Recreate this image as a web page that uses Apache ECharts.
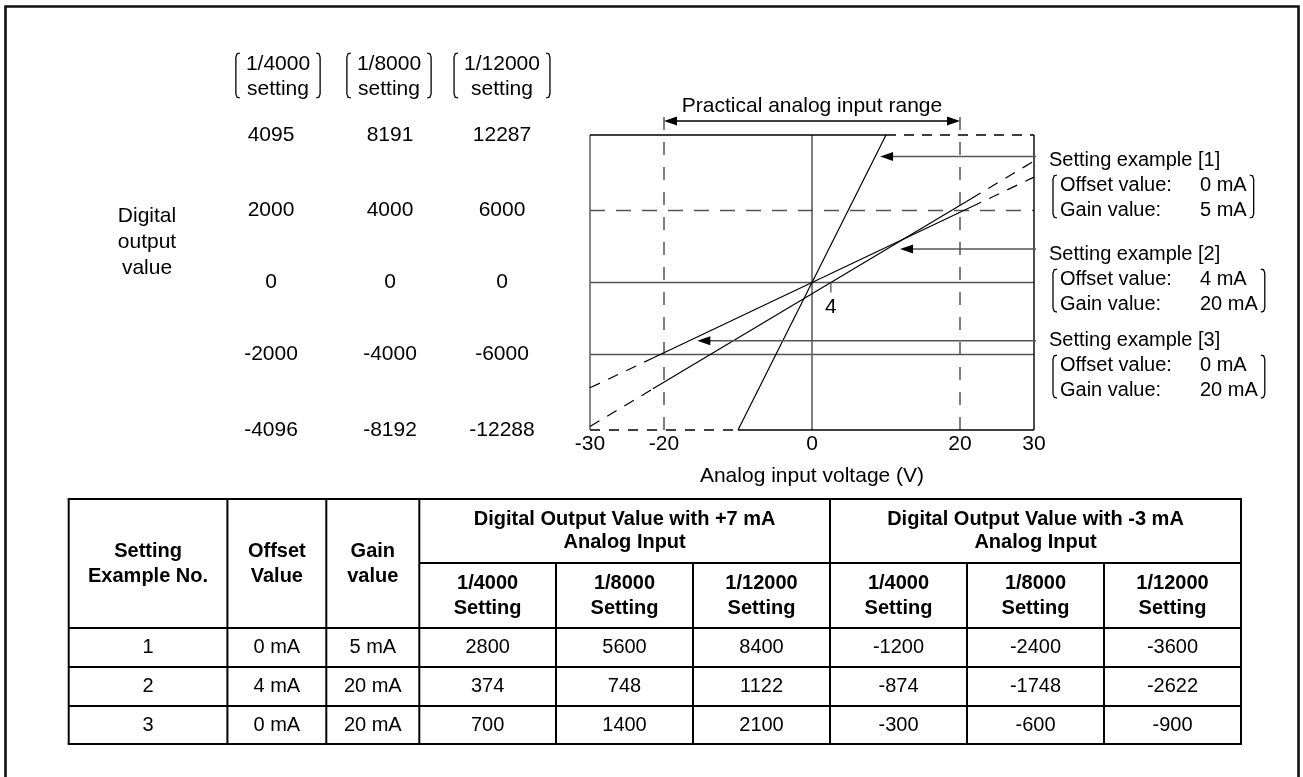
<!DOCTYPE html>
<html><head><meta charset="utf-8">
<script src="https://cdn.jsdelivr.net/npm/echarts@6/dist/echarts.min.js"></script>
<style>html,body{margin:0;padding:0;background:#fff}#c{width:1303px;height:777px}</style>
</head><body><div id="c"></div>
<script>
// ================= DATA =================
const xTicks = [-30, -20, 0, 20, 30];
const yTicks4000 = [-4096, -2000, 0, 2000, 4095];
const yTicks8000 = [-8192, -4000, 0, 4000, 8191];
const yTicks12000 = [-12288, -6000, 0, 6000, 12287];
const resolutionHeaders = ['1/4000', '1/8000', '1/12000'];
const practicalRange = [-20, 20];

// characteristic lines (x: V, y: digital value at 1/4000)
const example1Line = [[-10, -4096], [10, 4095]];
const example2Solid = [[-21.5, -2953], [21.5, 2327]];
const example2DashLeft = [[-30, -3997], [-21.5, -2953]];
const example2DashRight = [[21.5, 2327], [30, 3371]];
const example3Solid = [[-21.5, -2096], [21.5, 2096]];
const example3DashLeft = [[-30, -2925], [-21.5, -2096]];
const example3DashRight = [[21.5, 2096], [30, 2925]];
const example2OffsetX = 2.55;
const example2OffsetLabel = '4';

const exampleNames = ['Setting example [1]', 'Setting example [2]', 'Setting example [3]'];
const offsetValues = ['0 mA', '4 mA', '0 mA'];
const gainValues = ['5 mA', '20 mA', '20 mA'];

const tableNo = ['1', '2', '3'];
const plus7mA = [[2800, 5600, 8400], [374, 748, 1122], [700, 1400, 2100]];
const minus3mA = [[-1200, -2400, -3600], [-874, -1748, -2622], [-300, -600, -900]];

// ================= LAYOUT =================
const FONT = '"Liberation Sans", Arial, Helvetica, sans-serif';
const G = {left: 590, top: 135, width: 444, height: 295};
const xMin = xTicks[0], xMax = xTicks[xTicks.length - 1];
const yMin = yTicks4000[0], yMax = yTicks4000[yTicks4000.length - 1];
const pxPerX = G.width / (xMax - xMin);
const GUIDE = '#555', INK = '#000';
const rangeArrowY = 4483, rangeGuideTop = 4790, tickBottomY = -280;
const arrowTips = [[9.2, 3500], [11.9, 930], [-15.5, -1620]];
const arrowStartX = 31.3;
const headLen = 13, headW = 9, headDX = headLen / 2 / pxPerX;

function seg(data, color, width, dash, z) {
  return {type: 'line', data: data, symbol: 'none', showSymbol: false, clip: false, silent: true,
    animation: false, z: z || 2, lineStyle: {color: color, width: width, type: dash || 'solid'}};
}

const series = [
  seg([[0, yMin], [0, yMax]], GUIDE, 1.5),
  seg([[xMin, yTicks4000[2]], [xMax, yTicks4000[2]]], GUIDE, 1.5),
  seg([[xMin, yTicks4000[1]], [xMax, yTicks4000[1]]], GUIDE, 1.5),
  seg([[xMin, yTicks4000[3]], [xMax, yTicks4000[3]]], GUIDE, 1.5, [15, 11]),
  seg([[practicalRange[0], yMin], [practicalRange[0], rangeGuideTop]], GUIDE, 1.5, [13, 12]),
  seg([[practicalRange[1], yMin], [practicalRange[1], rangeGuideTop]], GUIDE, 1.5, [13, 12]),
  // frame
  seg([[xMin, yMin], [xMin, yMax]], '#666', 1.6, null, 3),
  seg([[xMax, yMin], [xMax, yMax]], INK, 1.4, null, 3),
  seg([[xMin, yMax], [example1Line[1][0], yMax]], INK, 1.4, null, 3),
  seg([[example1Line[1][0], yMax], [xMax, yMax]], INK, 1.4, [10, 8], 3),
  seg([[xMin, yMin], [example1Line[0][0], yMin]], INK, 1.4, [10, 9], 3),
  seg([[example1Line[0][0], yMin], [xMax, yMin]], INK, 1.4, null, 3),
  // characteristic lines
  seg(example1Line, INK, 1.2, null, 4),
  seg(example2Solid, INK, 1.2, null, 4),
  seg(example2DashLeft, INK, 1.2, [11, 9], 4),
  seg(example2DashRight, INK, 1.2, [11, 9], 4),
  seg(example3Solid, INK, 1.2, null, 4),
  seg(example3DashLeft, INK, 1.2, [11, 9], 4),
  seg(example3DashRight, INK, 1.2, [11, 9], 4),
  seg([[example2OffsetX, 0], [example2OffsetX, tickBottomY]], GUIDE, 1.3, null, 4),
  // arrows
  seg([[practicalRange[0] + headDX, rangeArrowY], [practicalRange[1] - headDX, rangeArrowY]], INK, 1.5, null, 4)
].concat(arrowTips.map(t => seg([[arrowStartX, t[1]], [t[0] + headDX, t[1]]], GUIDE, 1.5, null, 4)));

series.push({
  type: 'scatter', clip: false, silent: true, animation: false, z: 6,
  symbol: 'triangle', symbolSize: [headW, headLen], itemStyle: {color: INK, opacity: 1},
  data: [{value: [practicalRange[0] + headDX, rangeArrowY], symbolRotate: 90},
         {value: [practicalRange[1] - headDX, rangeArrowY], symbolRotate: -90}]
    .concat(arrowTips.map(t => ({value: [t[0] + headDX, t[1]], symbolRotate: 90})))
});
series.push({
  type: 'scatter', clip: false, silent: true, animation: false, z: 6,
  symbolSize: 1, itemStyle: {color: 'rgba(0,0,0,0)', opacity: 1},
  label: {show: true, color: INK, fontFamily: FONT, fontSize: 21, opacity: 1},
  data: [
    {value: [0, rangeArrowY], label: {position: 'top', distance: 4, formatter: 'Practical analog input range'}},
    {value: [example2OffsetX, tickBottomY], label: {position: 'bottom', distance: 4, formatter: example2OffsetLabel}}
  ]
});

function yAx(ticks, centerX) {
  return {type: 'value', gridIndex: 0, position: 'left', min: ticks[0], max: ticks[ticks.length - 1],
    offset: G.left - centerX, axisLine: {show: false}, axisTick: {show: false}, splitLine: {show: false},
    axisLabel: {customValues: ticks, formatter: v => String(v), align: 'center', margin: 0, fontSize: 21, color: INK,
      fontFamily: FONT, padding: [7, 0, 0, 0]}};
}
const axisCenters = [271, 390, 502];
const headerCenters = [278, 389, 502];

// ================= GRAPHIC (annotations + table) =================
const gfx = [];
const measure = (function () {
  const ctx = document.createElement('canvas').getContext('2d');
  return function (str, size, bold) { ctx.font = (bold ? 'bold ' : '') + size + 'px ' + FONT; return ctx.measureText(str).width; };
})();
function txt(x, y, str, o) {
  o = o || {};
  const size = o.size || 21;
  gfx.push({type: 'text', silent: true, z: 10, style: {
    x: x, y: y, text: str, fill: INK,
    font: (o.bold ? 'bold ' : '') + size + 'px ' + FONT,
    textAlign: o.align || 'center', align: o.align || 'center',
    textVerticalAlign: 'middle', verticalAlign: 'middle', lineHeight: o.lh || 24}});
}
function ln(x1, y1, x2, y2, w, c) {
  gfx.push({type: 'line', silent: true, z: 10, shape: {x1: x1, y1: y1, x2: x2, y2: y2},
    style: {stroke: c || INK, lineWidth: w || 2}});
}
function poly(points, w, c) {
  gfx.push({type: 'polyline', silent: true, z: 10, shape: {points: points},
    style: {stroke: c || INK, lineWidth: w || 1.3, fill: null}});
}
function bracket(x, y1, y2, dir) {
  const h = 4 * dir;
  poly([[x + h, y1], [x + h * 0.3, y1 + 0.8], [x, y1 + 4], [x, y2 - 4], [x + h * 0.3, y2 - 0.8], [x + h, y2]]);
}

// outer border
poly([[5.5, 777], [5.5, 6.5], [1298.5, 6.5], [1298.5, 777]], 2.6, '#111');

// left resolution headers
resolutionHeaders.forEach((r, i) => {
  const c = headerCenters[i];
  txt(c, 64, r);
  txt(c, 89, 'setting');
  const hw = Math.max(measure(r, 21), measure('setting', 21)) / 2 + 10;
  bracket(c - hw, 53, 98, 1);
  bracket(c + hw, 53, 98, -1);
});
txt(147, 242, 'Digital\noutput\nvalue', {lh: 26});

// right setting-example annotations
const titleYs = [160, 254, 340];
exampleNames.forEach((n, i) => {
  const ty = titleYs[i];
  txt(1049, ty, n, {align: 'left', size: 20});
  txt(1060, ty + 25, 'Offset value:', {align: 'left', size: 20});
  txt(1060, ty + 50, 'Gain value:', {align: 'left', size: 20});
  txt(1200, ty + 25, offsetValues[i], {align: 'left', size: 20});
  txt(1200, ty + 50, gainValues[i], {align: 'left', size: 20});
  const vw = Math.max(measure(offsetValues[i], 20), measure(gainValues[i], 20));
  bracket(1053, ty + 15, ty + 58, 1);
  bracket(1200 + vw + 7, ty + 15, ty + 58, -1);
});

// table
const cols = [68.7, 227.4, 326.3, 419.3, 556, 693, 830, 967, 1104, 1241];
const rows = [499, 563, 628, 667, 706, 744];
const L = cols[0], R = cols[cols.length - 1], T = rows[0], B = rows[rows.length - 1];
ln(L - 1, T, R + 1, T); ln(L - 1, B, R + 1, B); ln(L, T, L, B); ln(R, T, R, B);
[1, 2, 3, 6].forEach(k => ln(cols[k], T, cols[k], B));
[4, 5, 7, 8].forEach(k => ln(cols[k], rows[1], cols[k], B));
ln(cols[3], rows[1], R, rows[1]);
[2, 3, 4].forEach(k => ln(L, rows[k], R, rows[k]));
const mid = (a, b) => (a + b) / 2;
const headLeft = ['Setting\nExample No.', 'Offset\nValue', 'Gain\nvalue'];
headLeft.forEach((h, k) => txt(mid(cols[k], cols[k + 1]), mid(rows[0], rows[2]), h, {bold: true, size: 20, lh: 25}));
const groupHeads = ['Digital Output Value with +7 mA\nAnalog Input', 'Digital Output Value with -3 mA\nAnalog Input'];
groupHeads.forEach((h, g) => txt(mid(cols[3 + 3 * g], cols[6 + 3 * g]), mid(rows[0], rows[1]), h, {bold: true, size: 20, lh: 23}));
for (let g = 0; g < 2; g++) resolutionHeaders.forEach((r, k) =>
  txt(mid(cols[3 + 3 * g + k], cols[4 + 3 * g + k]), mid(rows[1], rows[2]), r + '\nSetting', {bold: true, size: 20, lh: 25}));
tableNo.forEach((n, i) => {
  const y = mid(rows[2 + i], rows[3 + i]);
  const cells = [n, offsetValues[i], gainValues[i]].concat(plus7mA[i].map(String), minus3mA[i].map(String));
  cells.forEach((c, k) => txt(mid(cols[k], cols[k + 1]), y, c, {size: 20}));
});

// ================= CHART =================
const chart = echarts.init(document.getElementById('c'), null, {renderer: 'canvas'});
chart.setOption({
  animation: false,
  backgroundColor: '#fff',
  grid: {left: G.left, top: G.top, width: G.width, height: G.height, show: false},
  xAxis: {type: 'value', min: xMin, max: xMax,
    axisLine: {show: false}, axisTick: {show: false}, splitLine: {show: false},
    axisLabel: {customValues: xTicks, fontSize: 21, color: INK, fontFamily: FONT, margin: 4},
    name: 'Analog input voltage (V)', nameLocation: 'middle', nameGap: 36,
    nameTextStyle: {fontSize: 21, color: INK, fontFamily: FONT}},
  yAxis: [yAx(yTicks4000, axisCenters[0]), yAx(yTicks8000, axisCenters[1]), yAx(yTicks12000, axisCenters[2])],
  series: series,
  graphic: {elements: gfx}
});
</script>
</body></html>
